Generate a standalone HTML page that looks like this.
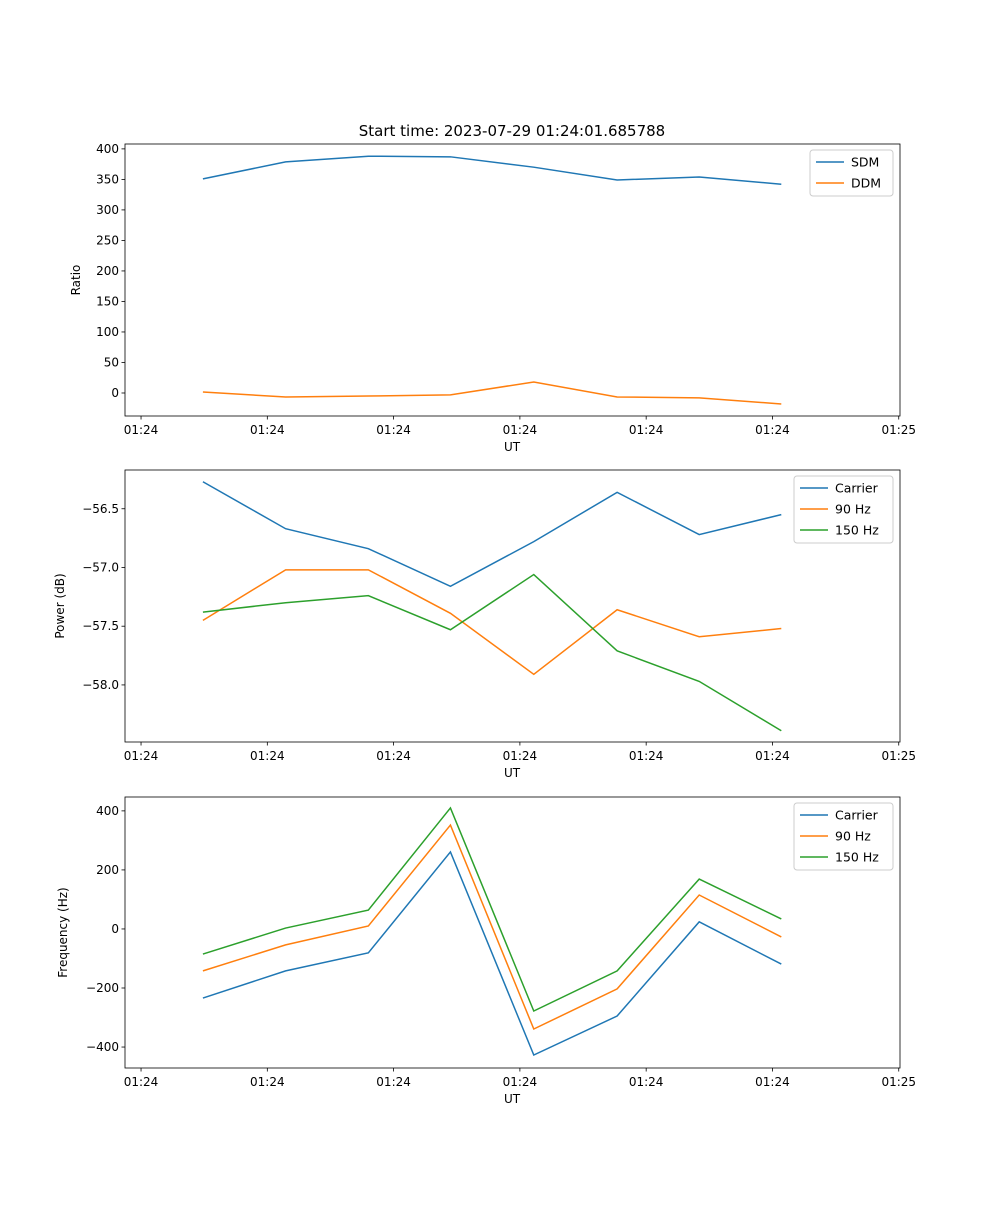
<!DOCTYPE html>
<html><head><meta charset="utf-8"><style>
body{margin:0;background:#fff;font-family:"Liberation Sans","DejaVu Sans",sans-serif}
svg text{font-family:"DejaVu Sans","Liberation Sans",sans-serif}
</style></head><body>
<svg id="c" width="1000" height="1200" xmlns="http://www.w3.org/2000/svg">
<rect width="1000" height="1200" fill="#fff"/>
<text x="512" y="136" font-size="15" text-anchor="middle">Start time: 2023-07-29 01:24:01.685788</text>
</svg>
<script>
const times=[4.9,11.45,18.0,24.5,31.1,37.7,44.2,50.7];
const xTicks=[0,10,20,30,40,50,60];
const xTickLabels=["01:24","01:24","01:24","01:24","01:24","01:24","01:25"];
const sdm=[350.8,378.7,388,387,370,349,354,342];
const ddm=[1.6,-6.5,-5,-3,18,-6.5,-8,-18];
const pCarrier=[-56.27,-56.67,-56.84,-57.16,-56.78,-56.36,-56.72,-56.55];
const p90=[-57.45,-57.02,-57.02,-57.39,-57.91,-57.36,-57.59,-57.52];
const p150=[-57.38,-57.30,-57.24,-57.53,-57.06,-57.71,-57.97,-58.39];
const fCarrier=[-234,-142,-81,261,-427,-295,24,-119];
const f90=[-142,-54,10,352,-339,-203,115,-27];
const f150=[-85,3,64,410,-278,-142,169,34];
const yTicks1=[0,50,100,150,200,250,300,350,400];
const yTicks2=[-58.0,-57.5,-57.0,-56.5];
const yTicks3=[-400,-200,0,200,400];

const svg=document.getElementById('c');
const NS='http://www.w3.org/2000/svg';
function mk(tag,attrs,parent){const e=document.createElementNS(NS,tag);for(const k in attrs)e.setAttribute(k,attrs[k]);(parent||svg).appendChild(e);return e;}
const X0=125,X1=900,xmin=-1.27,xmax=60.1;
const xs=t=>X0+(t-xmin)/(xmax-xmin)*(X1-X0);
function panel(name,top,bot,ymin,ymax,yTicks,fmt,ylabel,series,legend){
  const g=mk('g',{});
  
  
  const ys=v=>bot-(v-ymin)/(ymax-ymin)*(bot-top);
  series.forEach(s=>{
    const p=mk('polyline',{points:s.v.map((v,i)=>xs(times[i])+','+ys(v)).join(' '),fill:'none',stroke:s.c,'stroke-width':1.5},g);
    
    
  });
  mk('rect',{x:X0,y:top,width:X1-X0,height:bot-top,fill:'none',stroke:'#000','stroke-width':0.8},g);
  xTicks.forEach((t,i)=>{
    const x=xs(t);
    mk('line',{x1:x,x2:x,y1:bot,y2:bot+3.5,stroke:'#000','stroke-width':0.8},g);
    const tx=mk('text',{x:x,y:bot+18,'font-size':12,'text-anchor':'middle'},g);
    tx.textContent=xTickLabels[i];
    
    
  });
  const xl=mk('text',{x:512,y:bot+35,'font-size':12,'text-anchor':'middle'},g);
  xl.textContent='UT';
  
  
  yTicks.forEach(v=>{
    const y=ys(v);
    mk('line',{x1:X0-3.5,x2:X0,y1:y,y2:y,stroke:'#000','stroke-width':0.8},g);
    const tx=mk('text',{x:X0-6,y:y+4,'font-size':12,'text-anchor':'end'},g);
    tx.textContent=fmt(v);
    
    
  });
  const yl=mk('text',{x:0,y:0,'font-size':12,'text-anchor':'middle',transform:`translate(${legend.yl},${(top+bot)/2}) rotate(-90)`},g);
  yl.textContent=ylabel;
  
  
  const lg=mk('g',{},g);
  
  
  const h=4+series.length*21;
  mk('rect',{x:legend.x,y:top+6,width:X1-7-legend.x,height:h,fill:'#fff',stroke:'#ccc',rx:3},lg);
  series.forEach((s,i)=>{
    const y=top+18+i*21;
    mk('line',{x1:legend.x+6,x2:legend.x+34,y1:y,y2:y,stroke:s.c,'stroke-width':1.5},lg);
    const t=mk('text',{x:legend.x+41,y:y+4.5,'font-size':12.5},lg);
    t.textContent=s.label;
    
    
  });
}
const B='#1f77b4',O='#ff7f0e',G='#2ca02c';
panel('ratio-panel',144,416,-37.7,408,yTicks1,v=>v.toString().replace('-','\u2212'),'Ratio',
 [{n:'sdm',v:sdm,c:B,label:'SDM'},{n:'ddm',v:ddm,c:O,label:'DDM'}],{x:810,yl:80});
panel('power-panel',470,742,-58.486,-56.17,yTicks2,v=>v.toFixed(1).replace('-','\u2212'),'Power (dB)',
 [{n:'carrier',v:pCarrier,c:B,label:'Carrier'},{n:'90hz',v:p90,c:O,label:'90 Hz'},{n:'150hz',v:p150,c:G,label:'150 Hz'}],{x:794,yl:64});
panel('frequency-panel',797,1068,-471,447,yTicks3,v=>v.toString().replace('-','\u2212'),'Frequency (Hz)',
 [{n:'carrier',v:fCarrier,c:B,label:'Carrier'},{n:'90hz',v:f90,c:O,label:'90 Hz'},{n:'150hz',v:f150,c:G,label:'150 Hz'}],{x:794,yl:67});
</script>
</body></html>
